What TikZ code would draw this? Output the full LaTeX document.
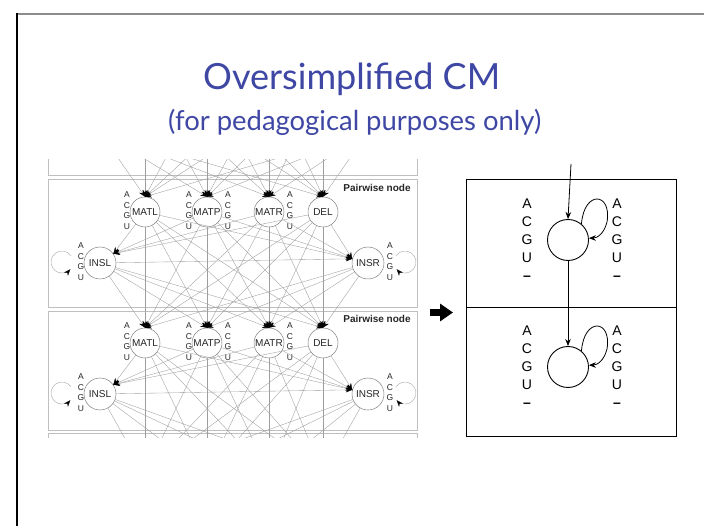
\documentclass[tikz,border=0pt]{standalone}
\usepackage{fontspec}
\setmainfont{Liberation Sans}
\newfontfamily\titlefont{Lato}
\usetikzlibrary{arrows.meta}
\definecolor{titleblue}{RGB}{63,71,165}
\tikzset{
 panelbox/.style={draw=black!25, line width=0.8pt},
 cmst/.style={circle, draw=black!50, line width=0.5pt, minimum size=30pt, inner sep=0pt, font=\fontsize{10}{10}\selectfont, text=black!85},
 cmist/.style={cmst, minimum size=32pt},
 acgu/.style={align=center, inner sep=0pt, font=\fontsize{8.5}{10.5}\selectfont, text=black!85},
 pwlabel/.style={inner sep=0pt, font=\bfseries\fontsize{10}{10}\selectfont, text=black!85},
 cmedge/.style={draw=black!38, line width=0.35pt, -{Stealth[length=6.5pt,width=5pt,color=black]}},
 bigst/.style={circle, draw=black, line width=0.9pt, minimum size=41pt, inner sep=0pt},
 bigacgu/.style={align=center, inner sep=0pt, font=\fontsize{14}{18}\selectfont},
 bigedge/.style={draw=black, line width=0.8pt, -{Stealth[length=7pt,width=5.5pt]}},
 rpanel/.style={draw=black, line width=0.9pt},
}
\begin{document}
\begin{tikzpicture}[x=1pt,y=-1pt]
\useasboundingbox (0,0) rectangle (704,526);
\fill[white] (0,0) rectangle (704,526);
% slide frame
\draw[black!45, line width=1.3pt] (17,14) -- (704,14);
\draw[black, line width=1.3pt] (17,13.35) -- (17,526);
% title
\node[anchor=base west, inner sep=0pt, text=titleblue, font=\titlefont\fontsize{38}{40}\selectfont] (title) at (203,90) {\resizebox{297pt}{!}{Oversimplified CM}};
\node[anchor=base west, inner sep=0pt, text=titleblue, font=\titlefont\fontsize{27}{30}\selectfont] (subtitle) at (168,131) {\resizebox{373pt}{!}{(for pedagogical purposes only)}};
% left panel (cropped figure)
\begin{scope}
\clip (47,160) rectangle (419,437.5);
\draw[panelbox] (48,50) rectangle (417,175);
\draw[panelbox] (48,179) rectangle (417,307);
\draw[panelbox] (48,311) rectangle (417,430);
\draw[panelbox] (48,433) rectangle (417,560);
% states of the neighbouring (cropped away) nodes
\foreach \k/\y in {0/81,3/474}{
  \coordinate (ML\k) at (145,\y);
  \coordinate (MP\k) at (207,\y);
  \coordinate (MR\k) at (269,\y);
  \coordinate (D\k) at (323,\y);
  \coordinate (IL\k) at (100,\y+51);
  \coordinate (IR\k) at (368,\y+51);
}
\foreach \k/\y in {1/212,2/343}{
  \node[cmst] (ML\k) at (145,\y) {MATL};
  \node[cmst] (MP\k) at (207,\y) {MATP};
  \node[cmst] (MR\k) at (269,\y) {MATR};
  \node[cmst] (D\k) at (323,\y) {DEL};
  \node[cmist] (IL\k) at (100,\y+51) {INSL};
  \node[cmist] (IR\k) at (368,\y+51) {INSR};
  \node[pwlabel] (PW\k) at (377,\y-24) {Pairwise node};
  \node[acgu] (aML\k) at (127,\y-1.5) {A\\C\\G\\U};
  \node[acgu] (aMPl\k) at (189,\y-1.5) {A\\C\\G\\U};
  \node[acgu] (aMPr\k) at (228,\y-1.5) {A\\C\\G\\U};
  \node[acgu] (aMR\k) at (290,\y-1.5) {A\\C\\G\\U};
  \node[acgu] (aIL\k) at (81,\y+49.5) {A\\C\\G\\U};
  \node[acgu] (aIR\k) at (390,\y+49.5) {A\\C\\G\\U};
  \draw[cmedge] ([shift={(-29,-7.3)}]IL\k.center) arc[start angle=-35, end angle=-319, radius=11];
  \draw[cmedge] ([shift={(28,-7.3)}]IR\k.center) arc[start angle=215, end angle=499, radius=11];
  \foreach \s in {ML,MP,MR,D}{
    \draw[cmedge] (\s\k) -- (IL\k.35);
    \draw[cmedge] (\s\k) -- (IR\k.165);
  }
  \draw[cmedge] (IL\k) -- (IR\k.165);
}
\foreach \k/\n/\a in {0/1/.north,1/2/.north,2/3/{}}{
  \foreach \t in {ML,MP,MR,D}{
    \foreach \s in {ML,MP,MR,D,IL,IR}{
      \draw[cmedge] (\s\k) -- (\t\n\a);
    }
  }
}
\end{scope}
% big arrow
\coordinate (bA) at (430,312.5);
\coordinate (bB) at (453,312.5);
\draw[line width=6.5pt, -{Triangle[length=13pt,width=17pt]}] (bA) -- (bB);
% right panel
\draw[rpanel] (466,179) rectangle (676,436);
\draw[rpanel] (466,307) -- (676,307);
\node[bigst] (C1) at (568,240) {};
\node[bigst] (C2) at (568,367) {};
\node[bigacgu] (L1) at (527,240) {A\\C\\G\\U\\\textbf{–}};
\node[bigacgu] (R1) at (617,240) {A\\C\\G\\U\\\textbf{–}};
\node[bigacgu] (L2) at (527,367) {A\\C\\G\\U\\\textbf{–}};
\node[bigacgu] (R2) at (617,367) {A\\C\\G\\U\\\textbf{–}};
\coordinate (in) at (571,164);
\draw[bigedge] (in) -- (C1.north);
\draw[bigedge] (C1.south) -- (C2.north);
\draw[bigedge] (C1.50) .. controls ([shift={(16,-50)}]C1.center) and ([shift={(44,-48)}]C1.center) .. ([shift={(39,-18)}]C1.center) .. controls ([shift={(36,-6)}]C1.center) and ([shift={(29,-2)}]C1.center) .. (C1.5);
\draw[bigedge] (C2.50) .. controls ([shift={(16,-50)}]C2.center) and ([shift={(44,-48)}]C2.center) .. ([shift={(39,-18)}]C2.center) .. controls ([shift={(36,-6)}]C2.center) and ([shift={(29,-2)}]C2.center) .. (C2.5);
\end{tikzpicture}
\end{document}
